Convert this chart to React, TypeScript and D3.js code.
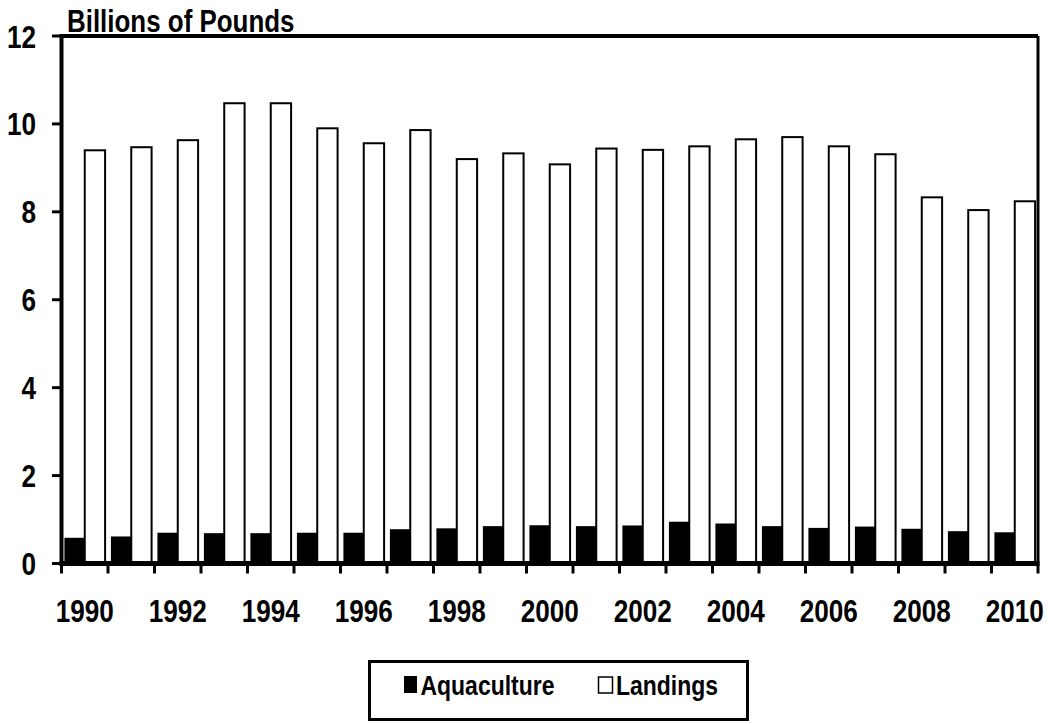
import React from "react";
import * as d3 from "d3";

const years = [1990,1991,1992,1993,1994,1995,1996,1997,1998,1999,2000,2001,2002,2003,2004,2005,2006,2007,2008,2009,2010];
const aquaculture = [0.585,0.615,0.70,0.69,0.69,0.70,0.70,0.78,0.80,0.85,0.87,0.85,0.865,0.95,0.91,0.85,0.81,0.84,0.79,0.735,0.71];
const landings = [9.40,9.47,9.63,10.47,10.47,9.90,9.56,9.86,9.20,9.33,9.08,9.44,9.41,9.49,9.65,9.70,9.49,9.31,8.33,8.04,8.24];
const seriesNames = ["Aquaculture", "Landings"];
const yTicks = [0, 2, 4, 6, 8, 10, 12];
const xLabelYears = [1990,1992,1994,1996,1998,2000,2002,2004,2006,2008,2010];

const FONT = "'Liberation Sans', Arial, sans-serif";

function T({ x, y, size, sx = 0.83, anchor = "start", children }: any) {
  return (
    <g transform={`translate(${x},${y}) scale(${sx},1)`}>
      <text x={0} y={0} fontFamily={FONT} fontWeight="bold" fontSize={size} textAnchor={anchor} fill="#000">
        {children}
      </text>
    </g>
  );
}

export default function App() {
  const W = 1048, H = 724;
  const left = 61.5, right = 1038, top = 36, bottom = 563.5;

  const x = d3.scaleBand<number>().domain(years).range([left, right]).paddingInner(0.125).paddingOuter(0.0625);
  const xs = d3.scaleBand<string>().domain(seriesNames).range([0, x.bandwidth()]);
  const y = d3.scaleLinear().domain([0, 12]).range([bottom, top]);
  const step = x.step();
  const boundaries = d3.range(years.length + 1).map((i) => left + i * step);

  return (
    <svg width={W} height={H} style={{ position: "absolute", left: 0, top: 0, background: "#fff" }}>
      <rect x={0} y={0} width={W} height={H} fill="#fff" />
      {/* bars */}
      {years.map((yr, i) => (
        <g key={yr}>
          <rect x={x(yr)! + xs("Aquaculture")!} y={y(aquaculture[i])} width={xs.bandwidth()} height={y(0) - y(aquaculture[i])} fill="#000" />
          <rect x={x(yr)! + xs("Landings")!} y={y(landings[i])} width={xs.bandwidth()} height={y(0) - y(landings[i])} fill="#fff" stroke="#000" strokeWidth={2} />
        </g>
      ))}
      {/* frame */}
      <line x1={left} x2={right} y1={top} y2={top} stroke="#000" strokeWidth={4} />
      <line x1={right} x2={right} y1={top} y2={bottom} stroke="#000" strokeWidth={3} />
      <line x1={left} x2={left} y1={top - 2} y2={bottom + 2} stroke="#000" strokeWidth={4} />
      <line x1={left - 2} x2={right + 1.5} y1={bottom} y2={bottom} stroke="#000" strokeWidth={5} />
      {/* y ticks */}
      {yTicks.map((t) => (
        <g key={t}>
          <line x1={52} x2={left} y1={y(t)} y2={y(t)} stroke="#000" strokeWidth={3} />
          <T x={36} y={y(t) + 11.5} size={31.5} anchor="end">{t}</T>
        </g>
      ))}
      {/* x ticks */}
      {boundaries.map((bx, i) => (
        <line key={i} x1={bx} x2={bx} y1={bottom} y2={bottom + 10} stroke="#000" strokeWidth={3} />
      ))}
      {xLabelYears.map((yr) => (
        <T key={yr} x={x(yr)! + x.bandwidth() / 2} y={622} size={31.5} anchor="middle">{yr}</T>
      ))}
      {/* title */}
      <T x={67} y={32} size={30.5} sx={0.85}>Billions of Pounds</T>
      {/* legend */}
      <rect x={369.5} y={661.5} width={378} height={58} fill="#fff" stroke="#000" strokeWidth={3} />
      <rect x={404} y={676} width={13} height={17} fill="#000" />
      <T x={420.5} y={695} size={28} sx={0.82}>{seriesNames[0]}</T>
      <rect x={598.5} y={677} width={14} height={16} fill="#fff" stroke="#000" strokeWidth={1.5} />
      <T x={616} y={695} size={28} sx={0.82}>{seriesNames[1]}</T>
    </svg>
  );
}
